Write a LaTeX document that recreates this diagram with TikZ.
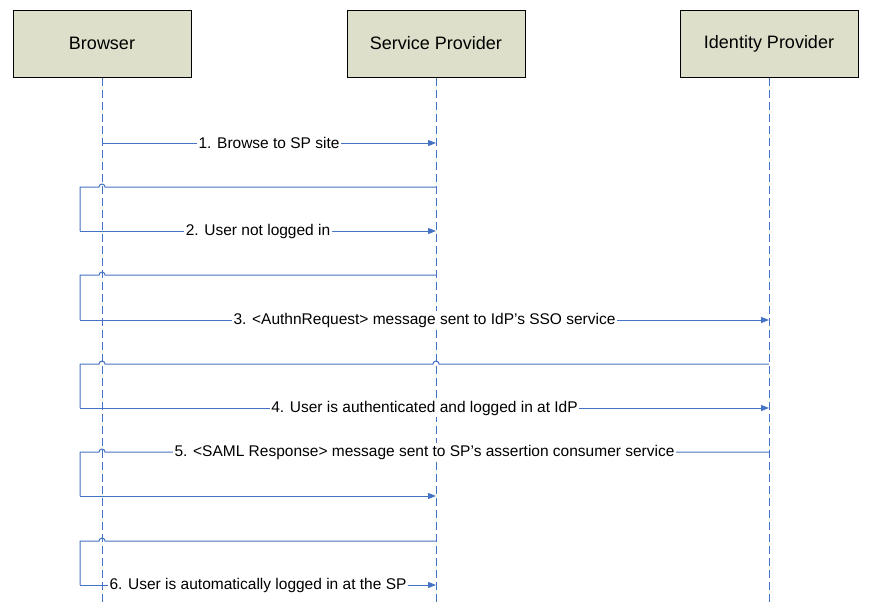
\documentclass[tikz,border=0pt]{standalone}
\usepackage{fontspec}
\setmainfont{Liberation Sans}
\usetikzlibrary{arrows.meta}
\definecolor{lineblue}{HTML}{4472C4}
\definecolor{boxfill}{HTML}{DDDFCA}
\begin{document}
\begin{tikzpicture}[x=1pt,y=-1pt,
 actor/.style={draw=black, line width=1pt, fill=boxfill, minimum width=178pt, minimum height=67pt, font=\fontsize{18}{20}\selectfont, inner sep=0pt},
 life/.style={draw=lineblue, line width=0.9pt, dash pattern=on 8pt off 4pt},
 msg/.style={draw=lineblue, line width=1pt},
 arr/.style={msg, -{Triangle[length=8pt,width=6pt]}},
 lbl/.style={fill=white, inner sep=1.5pt, font=\fontsize{15.5}{17}\selectfont}
]
\useasboundingbox (0,0) rectangle (873,605);
% actors
\node[actor] (b) at (102,43.5) {Browser};
\node[actor] (sp) at (436,43.5) {Service Provider};
\node[actor] (idp) at (769,43.5) {Identity Provider};
% lifelines
\coordinate (bend) at (102,605);
\coordinate (spend) at (436,605);
\coordinate (idpend) at (769,605);
\draw[life] (b.south) -- (bend);
\draw[life] (sp.south) -- (spend);
\draw[life] (idp.south) -- (idpend);
% 1
\coordinate (b1) at (102,143);
\coordinate (s1) at (436,143);
\draw[arr] (b1) -- node[lbl]{1. Browse to SP site} (s1);
% 2
\coordinate (s2a) at (436,187);
\coordinate (h2) at (105,187);
\coordinate (l2a) at (80,187);
\coordinate (l2b) at (80,231);
\coordinate (s2b) at (436,231);
\draw[msg] (s2a) -- (h2) arc[start angle=0,end angle=180,radius=3pt] -- (l2a) -- (l2b);
\draw[arr] (l2b) -- node[lbl]{2. User not logged in} (s2b);
% 3
\coordinate (s3a) at (436,275);
\coordinate (h3) at (105,275);
\coordinate (l3a) at (80,275);
\coordinate (l3b) at (80,320);
\coordinate (i3b) at (769,320);
\draw[msg] (s3a) -- (h3) arc[start angle=0,end angle=180,radius=3pt] -- (l3a) -- (l3b);
\draw[arr] (l3b) -- node[lbl]{3. <AuthnRequest> message sent to IdP’s SSO service} (i3b);
% 4
\coordinate (i4a) at (769,364);
\coordinate (h4s) at (439,364);
\coordinate (h4b) at (105,364);
\coordinate (l4a) at (80,364);
\coordinate (l4b) at (80,408);
\coordinate (i4b) at (769,408);
\draw[msg] (i4a) -- (h4s) arc[start angle=0,end angle=180,radius=3pt] -- (h4b) arc[start angle=0,end angle=180,radius=3pt] -- (l4a) -- (l4b);
\draw[arr] (l4b) -- node[lbl]{4. User is authenticated and logged in at IdP} (i4b);
% 5
\coordinate (i5a) at (769,452);
\coordinate (h5) at (105,452);
\coordinate (l5a) at (80,452);
\coordinate (l5b) at (80,496);
\coordinate (s5b) at (436,496);
\draw[msg] (i5a) -- (h5) arc[start angle=0,end angle=180,radius=3pt] -- (l5a) -- (l5b);
\node[lbl] (t5) at (424.5,452) {5. <SAML Response> message sent to SP’s assertion consumer service};
\draw[arr] (l5b) -- (s5b);
% 6
\coordinate (s6a) at (436,541);
\coordinate (h6) at (105,541);
\coordinate (l6a) at (80,541);
\coordinate (l6b) at (80,585);
\coordinate (s6b) at (436,585);
\draw[msg] (s6a) -- (h6) arc[start angle=0,end angle=180,radius=3pt] -- (l6a) -- (l6b);
\draw[arr] (l6b) -- node[lbl]{6. User is automatically logged in at the SP} (s6b);
\end{tikzpicture}
\end{document}
